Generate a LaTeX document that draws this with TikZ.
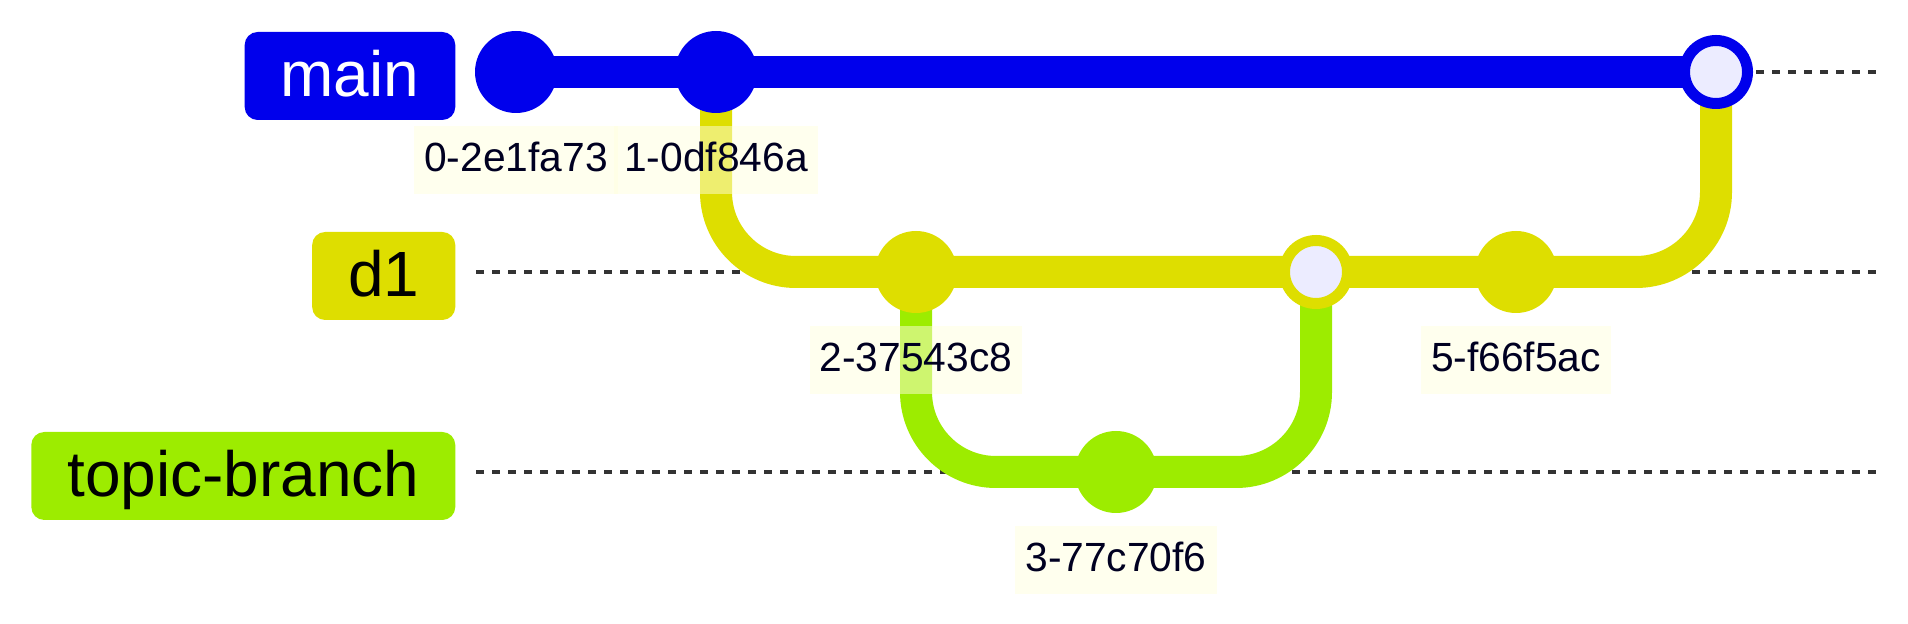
\documentclass[tikz,border=0pt]{standalone}
\usepackage{fontspec}
\setmainfont{Liberation Sans}
\usepackage{xcolor}
\usepackage{tikz}
\usetikzlibrary{positioning, backgrounds}
\definecolor{gitBlue}{RGB}{0, 0, 236}
\definecolor{gitYellow}{RGB}{222, 222, 0}
\definecolor{gitGreen}{RGB}{157, 236, 0}
\definecolor{mergeFill}{RGB}{236, 236, 255}
\definecolor{labelBg}{RGB}{255, 255, 222}
\definecolor{labelText}{RGB}{0, 0, 33}
\definecolor{laneGray}{RGB}{51, 51, 51}
\tikzset{
    base/.style={
        font=\fontsize{18.2pt}{20pt}\selectfont,
        align=center
    },
    branch/.style={
        base,
        rectangle,
        rounded corners=1.3mm,
        anchor=east,
        inner xsep=3.6mm,
        inner ysep=1.3mm,
        text height=5.2mm,
        text depth=1mm
    },
    commit/.style={
        circle,
        inner sep=0pt,
        minimum size=8.2mm
    },
    merge/.style={
        circle,
        inner sep=0pt,
        minimum size=6.3mm,
        line width=1.1mm,
        fill=mergeFill
    },
    hashlabel/.style={
        font=\fontsize{11.6pt}{13pt}\selectfont,
        text=labelText,
        fill=labelBg,
        fill opacity=0.5,
        text opacity=1,
        inner xsep=1mm,
        inner ysep=1.2mm,
        text height=3.4mm,
        text depth=1mm
    },
    track/.style={
        line width=3.2mm
    },
    lane/.style={
        line width=0.4mm,
        color=laneGray,
        dash pattern=on 0.8mm off 0.8mm
    }
}

\begin{document}
\begin{tikzpicture}
  \useasboundingbox (0,0.72) rectangle (19.08,-5.52);

  % Branch names
  \node[branch, fill=gitBlue, text=white] (bmain) at (4.56,-0.04) {main};
  \node[branch, fill=gitYellow, text=black] (bd1) at (4.56,-2.04) {d1};
  \node[branch, fill=gitGreen, text=black] (btopic) at (4.56,-4.04) {topic-branch};

  % Lane ends
  \coordinate (mainStart) at (4.76,0);
  \coordinate (mainEnd) at (18.76,0);
  \coordinate (d1Start) at (4.76,-2);
  \coordinate (d1End) at (18.76,-2);
  \coordinate (topicStart) at (4.76,-4);
  \coordinate (topicEnd) at (18.76,-4);

  % Commits
  \node[commit, fill=gitBlue] (c0) at (5.16,0) {};
  \node[commit, fill=gitBlue] (c1) at (7.16,0) {};
  \node[commit, fill=gitYellow] (c2) at (9.16,-2) {};
  \node[commit, fill=gitGreen] (c3) at (11.16,-4) {};
  \node[merge, draw=gitYellow] (c4) at (13.16,-2) {};
  \node[commit, fill=gitYellow] (c5) at (15.16,-2) {};
  \node[merge, draw=gitBlue] (c6) at (17.16,0) {};

  % Commit ids
  \node[hashlabel] (h0) at ([yshift=-8.8mm]c0.center) {0-2e1fa73};
  \node[hashlabel] (h1) at ([yshift=-8.8mm]c1.center) {1-0df846a};
  \node[hashlabel] (h2) at ([yshift=-8.8mm]c2.center) {2-37543c8};
  \node[hashlabel] (h3) at ([yshift=-8.8mm]c3.center) {3-77c70f6};
  \node[hashlabel] (h5) at ([yshift=-8.8mm]c5.center) {5-f66f5ac};

  % Tracks
  \begin{scope}[on background layer]
    \draw[lane] (mainStart) -- (mainEnd);
    \draw[lane] (d1Start) -- (d1End);
    \draw[lane] (topicStart) -- (topicEnd);
    \draw[track, gitBlue] (c0.center) -- (c6.center);
    \draw[track, gitYellow, rounded corners=8mm] (c1.center) |- (c2.center) -- (c5.center) -| (c6.center);
    \draw[track, gitGreen, rounded corners=8mm] (c2.center) |- (c3.center) -| (c4.center);
  \end{scope}
\end{tikzpicture}
\end{document}
